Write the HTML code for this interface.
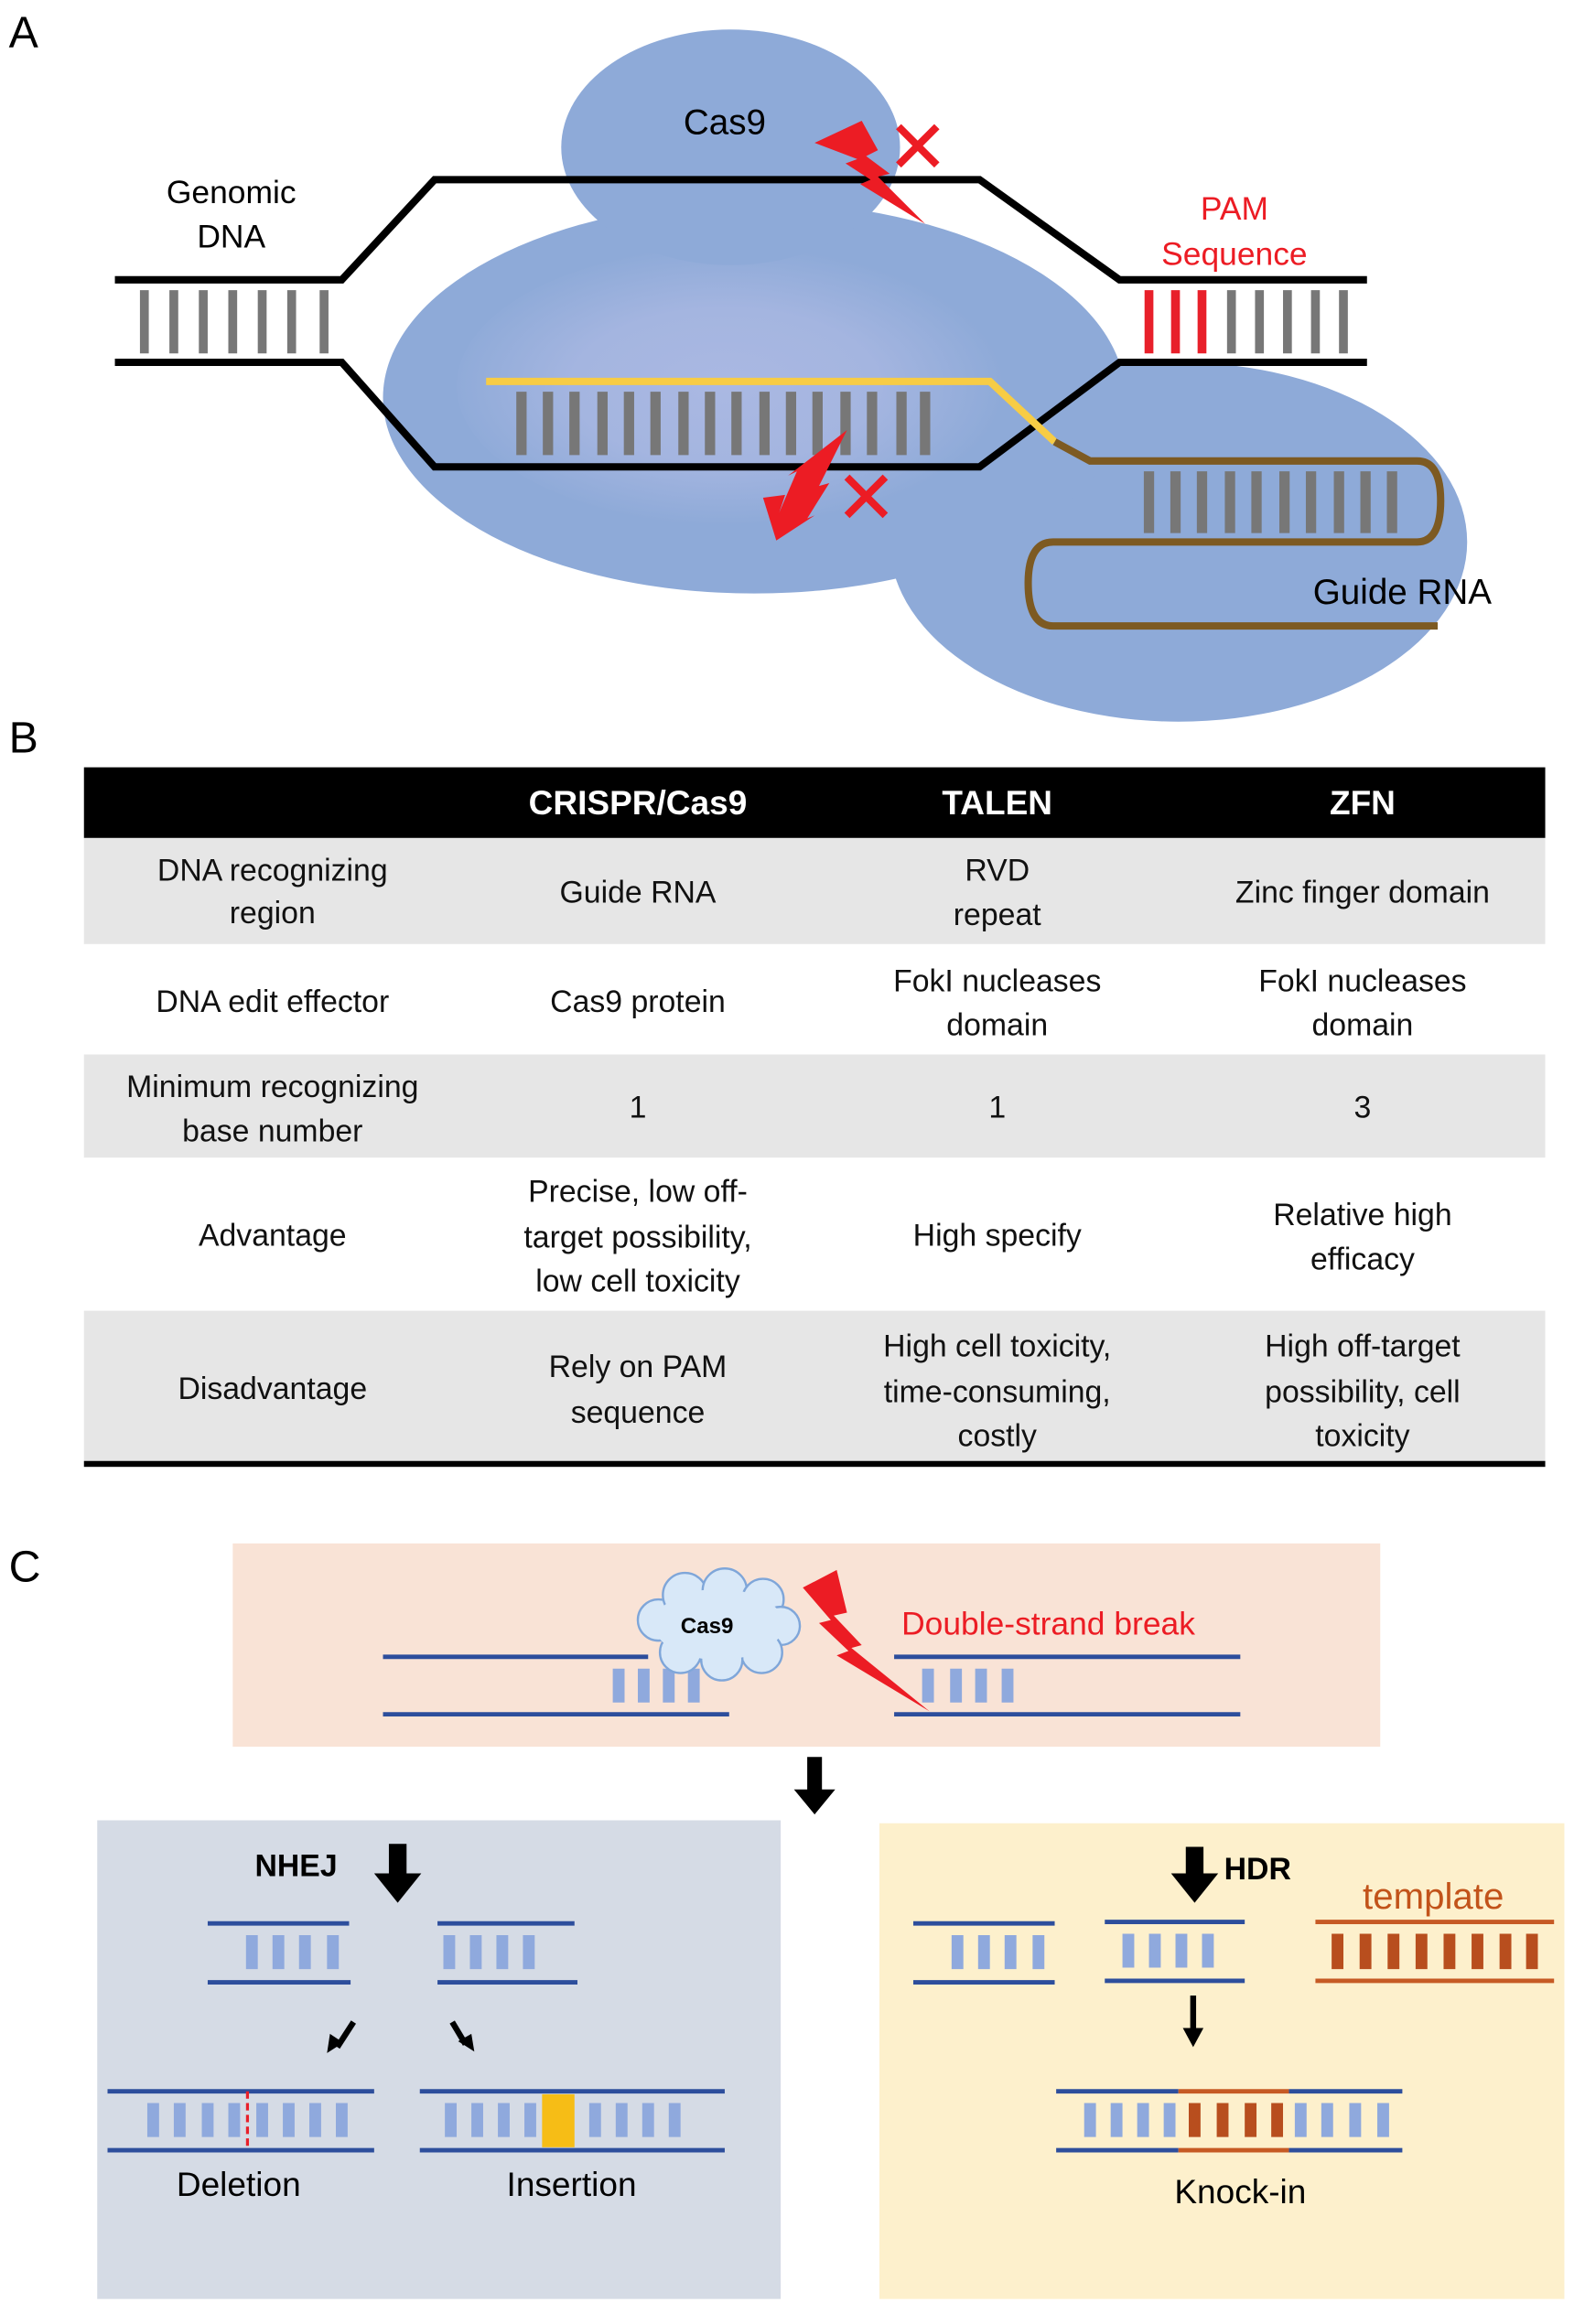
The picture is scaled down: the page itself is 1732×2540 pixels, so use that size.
<!DOCTYPE html>
<html><head><meta charset="utf-8"><style>
html,body{margin:0;padding:0;background:#fff}
svg{display:block}
text{font-family:"Liberation Sans",Arial,sans-serif}
</style></head><body>
<svg width="1732" height="2540" viewBox="0 0 1076 1578" preserveAspectRatio="none" xmlns="http://www.w3.org/2000/svg">
<defs>
<radialGradient id="g1" cx="0.48" cy="0.5" r="0.5">
<stop offset="0" stop-color="#aab8e2"/><stop offset="0.55" stop-color="#a4b5e0"/><stop offset="1" stop-color="#8eaad8"/>
</radialGradient>
</defs>
<!-- Panel A -->
<text x="6" y="32" font-size="30">A</text>
<ellipse cx="800" cy="368" rx="196" ry="122" fill="#8eaad8"/>
<ellipse cx="512" cy="270" rx="252" ry="133" fill="#8eaad8"/>
<ellipse cx="500" cy="262" rx="190" ry="95" fill="url(#g1)"/>
<ellipse cx="496" cy="100" rx="115" ry="80" fill="#8eaad8"/>
<!-- DNA -->
<g stroke="#000" stroke-width="5" fill="none" stroke-linejoin="miter">
<polyline points="78,190 232,190 295,122 665,122 760,190 928,190"/>
<polyline points="78,246 232,246 295,317 665,317 760,246 928,246"/>
</g>
<g stroke="#777" stroke-width="6">
<line x1="98" y1="197" x2="98" y2="240"/><line x1="118" y1="197" x2="118" y2="240"/><line x1="138" y1="197" x2="138" y2="240"/><line x1="158" y1="197" x2="158" y2="240"/><line x1="178" y1="197" x2="178" y2="240"/><line x1="198" y1="197" x2="198" y2="240"/><line x1="220" y1="197" x2="220" y2="240"/>
<line x1="836" y1="197" x2="836" y2="240"/><line x1="855" y1="197" x2="855" y2="240"/><line x1="874" y1="197" x2="874" y2="240"/><line x1="893" y1="197" x2="893" y2="240"/><line x1="912" y1="197" x2="912" y2="240"/>
</g>
<g stroke="#e8202a" stroke-width="6">
<line x1="780" y1="197" x2="780" y2="240"/><line x1="798" y1="197" x2="798" y2="240"/><line x1="816" y1="197" x2="816" y2="240"/>
</g>
<g stroke="#777" stroke-width="7">
<line x1="354" y1="266" x2="354" y2="309"/><line x1="372" y1="266" x2="372" y2="309"/><line x1="390" y1="266" x2="390" y2="309"/><line x1="409" y1="266" x2="409" y2="309"/><line x1="427" y1="266" x2="427" y2="309"/><line x1="445" y1="266" x2="445" y2="309"/><line x1="464" y1="266" x2="464" y2="309"/><line x1="482" y1="266" x2="482" y2="309"/><line x1="500" y1="266" x2="500" y2="309"/><line x1="519" y1="266" x2="519" y2="309"/><line x1="537" y1="266" x2="537" y2="309"/><line x1="555" y1="266" x2="555" y2="309"/><line x1="574" y1="266" x2="574" y2="309"/><line x1="592" y1="266" x2="592" y2="309"/><line x1="612" y1="266" x2="612" y2="309"/><line x1="628" y1="266" x2="628" y2="309"/>
<line x1="780" y1="320" x2="780" y2="362"/><line x1="798" y1="320" x2="798" y2="362"/><line x1="816" y1="320" x2="816" y2="362"/><line x1="835" y1="320" x2="835" y2="362"/><line x1="853" y1="320" x2="853" y2="362"/><line x1="872" y1="320" x2="872" y2="362"/><line x1="890" y1="320" x2="890" y2="362"/><line x1="909" y1="320" x2="909" y2="362"/><line x1="927" y1="320" x2="927" y2="362"/><line x1="945" y1="320" x2="945" y2="362"/>
</g>
<polyline points="330,259 672,259 716,300" fill="none" stroke="#f7cc45" stroke-width="5"/>
<path d="M716,300 L740,313 L962,313 Q978,313 978,340 Q978,368 962,368 L715,368 Q698,368 698,396 Q698,425 715,425 L976,425" fill="none" stroke="#7d5a22" stroke-width="5"/>
<!-- bolts -->
<polygon points="553,97 585,82 596,102 588,106 604,118 596,120 628,152 584,125 591,122 574,111 582,108" fill="#ec1c24"/>
<polygon points="575,292 556,330 563,328 548,352 553,350 527,367 518,338 533,336 529,348 541,320 535,323" fill="#ec1c24"/>
<g stroke="#ec1c24" stroke-width="5">
<line x1="610" y1="86" x2="636" y2="112"/><line x1="636" y1="86" x2="610" y2="112"/>
<line x1="575" y1="324" x2="601" y2="350"/><line x1="601" y1="324" x2="575" y2="350"/>
</g>
<text x="492" y="91" font-size="24" text-anchor="middle">Cas9</text>
<text x="157" y="138" font-size="22" text-anchor="middle">Genomic</text>
<text x="157" y="168" font-size="22" text-anchor="middle">DNA</text>
<text x="838" y="149" font-size="22" text-anchor="middle" fill="#ec1c24">PAM</text>
<text x="838" y="180" font-size="22" text-anchor="middle" fill="#ec1c24">Sequence</text>
<text x="952" y="410" font-size="24" text-anchor="middle">Guide RNA</text>

<!-- Panel B -->
<text x="6" y="511" font-size="30">B</text>
<rect x="57" y="521" width="992" height="48" fill="#000"/>
<rect x="57" y="569" width="992" height="72" fill="#e6e6e6"/>
<rect x="57" y="716" width="992" height="70" fill="#e6e6e6"/>
<rect x="57" y="890" width="992" height="103" fill="#e6e6e6"/>
<rect x="57" y="992" width="992" height="4" fill="#000"/>
<g font-size="23" font-weight="bold" fill="#fff" text-anchor="middle">
<text x="433" y="553">CRISPR/Cas9</text><text x="677" y="553">TALEN</text><text x="925" y="553">ZFN</text>
</g>
<g font-size="21" text-anchor="middle" fill="#111">
<text x="185" y="598">DNA recognizing</text><text x="185" y="627">region</text>
<text x="433" y="613">Guide RNA</text>
<text x="677" y="598">RVD</text><text x="677" y="628">repeat</text>
<text x="925" y="613">Zinc finger domain</text>
<text x="185" y="687">DNA edit effector</text>
<text x="433" y="687">Cas9 protein</text>
<text x="677" y="673">FokI nucleases</text><text x="677" y="703">domain</text>
<text x="925" y="673">FokI nucleases</text><text x="925" y="703">domain</text>
<text x="185" y="745">Minimum recognizing</text><text x="185" y="775">base number</text>
<text x="433" y="759">1</text><text x="677" y="759">1</text><text x="925" y="759">3</text>
<text x="185" y="846">Advantage</text>
<text x="433" y="816">Precise, low off-</text><text x="433" y="847">target possibility,</text><text x="433" y="877">low cell toxicity</text>
<text x="677" y="846">High specify</text>
<text x="925" y="832">Relative high</text><text x="925" y="862">efficacy</text>
<text x="185" y="950">Disadvantage</text>
<text x="433" y="935">Rely on PAM</text><text x="433" y="966">sequence</text>
<text x="677" y="921">High cell toxicity,</text><text x="677" y="952">time-consuming,</text><text x="677" y="982">costly</text>
<text x="925" y="921">High off-target</text><text x="925" y="952">possibility, cell</text><text x="925" y="982">toxicity</text>
</g>

<!-- Panel C -->
<text x="6" y="1074" font-size="30">C</text>
<rect x="158" y="1048" width="779" height="138" fill="#f9e3d6"/>
<g stroke="#2d4e9c" stroke-width="3">
<line x1="260" y1="1125" x2="440" y2="1125"/><line x1="260" y1="1164" x2="495" y2="1164"/>
<line x1="607" y1="1125" x2="842" y2="1125"/><line x1="607" y1="1164" x2="842" y2="1164"/>
</g>
<g stroke="#8fa9dd" stroke-width="8">
<line x1="420" y1="1133" x2="420" y2="1156"/><line x1="437" y1="1133" x2="437" y2="1156"/><line x1="454" y1="1133" x2="454" y2="1156"/><line x1="471" y1="1133" x2="471" y2="1156"/>
<line x1="630" y1="1133" x2="630" y2="1156"/><line x1="649" y1="1133" x2="649" y2="1156"/><line x1="666" y1="1133" x2="666" y2="1156"/><line x1="684" y1="1133" x2="684" y2="1156"/>
</g>
<g fill="#d8e8f8" stroke="#7fa6d9" stroke-width="1.5">
<circle cx="447" cy="1100" r="14"/><circle cx="465" cy="1083" r="15"/><circle cx="492" cy="1080" r="15"/><circle cx="518" cy="1086" r="14"/><circle cx="530" cy="1104" r="13"/><circle cx="517" cy="1122" r="14"/><circle cx="490" cy="1127" r="14"/><circle cx="462" cy="1122" r="14"/>
</g>
<ellipse cx="488" cy="1103" rx="44" ry="24" fill="#d8e8f8"/>
<text x="480" y="1109" font-size="15" font-weight="bold" text-anchor="middle">Cas9</text>
<polygon points="545,1078 568,1066 575,1095 566,1097 585,1117 578,1119 631,1162 568,1124 576,1121 556,1102 564,1100" fill="#ec1c24"/>
<text x="612" y="1110" font-size="22" fill="#ec1c24">Double-strand break</text>
<polygon points="548,1193 558,1193 558,1215 567,1215 553,1232 539,1215 548,1215" fill="#000"/>

<rect x="66" y="1236" width="464" height="325" fill="#d5dbe5"/>
<rect x="597" y="1238" width="465" height="323" fill="#fdf0cc"/>
<text x="173" y="1274" font-size="21" font-weight="bold">NHEJ</text>
<polygon points="264,1252 276,1252 276,1272 286,1272 270,1292 254,1272 264,1272" fill="#000"/>
<g stroke="#2d4e9c" stroke-width="3">
<line x1="141" y1="1306" x2="237" y2="1306"/><line x1="141" y1="1346" x2="238" y2="1346"/>
<line x1="297" y1="1306" x2="390" y2="1306"/><line x1="297" y1="1346" x2="392" y2="1346"/>
<line x1="73" y1="1420" x2="254" y2="1420"/><line x1="73" y1="1460" x2="254" y2="1460"/>
<line x1="285" y1="1420" x2="492" y2="1420"/><line x1="285" y1="1460" x2="492" y2="1460"/>
<line x1="620" y1="1306" x2="716" y2="1306"/><line x1="620" y1="1346" x2="716" y2="1346"/>
<line x1="750" y1="1305" x2="845" y2="1305"/><line x1="750" y1="1345" x2="845" y2="1345"/>
<line x1="717" y1="1420" x2="800" y2="1420"/><line x1="875" y1="1420" x2="952" y2="1420"/>
<line x1="717" y1="1460" x2="800" y2="1460"/><line x1="875" y1="1460" x2="952" y2="1460"/>
</g>
<g stroke="#8fa9dd" stroke-width="8">
<line x1="171" y1="1314" x2="171" y2="1337"/><line x1="189" y1="1314" x2="189" y2="1337"/><line x1="207" y1="1314" x2="207" y2="1337"/><line x1="226" y1="1314" x2="226" y2="1337"/>
<line x1="305" y1="1314" x2="305" y2="1337"/><line x1="323" y1="1314" x2="323" y2="1337"/><line x1="341" y1="1314" x2="341" y2="1337"/><line x1="359" y1="1314" x2="359" y2="1337"/>
<line x1="104" y1="1428" x2="104" y2="1451"/><line x1="122" y1="1428" x2="122" y2="1451"/><line x1="141" y1="1428" x2="141" y2="1451"/><line x1="159" y1="1428" x2="159" y2="1451"/><line x1="178" y1="1428" x2="178" y2="1451"/><line x1="196" y1="1428" x2="196" y2="1451"/><line x1="214" y1="1428" x2="214" y2="1451"/><line x1="232" y1="1428" x2="232" y2="1451"/>
<line x1="306" y1="1428" x2="306" y2="1451"/><line x1="324" y1="1428" x2="324" y2="1451"/><line x1="342" y1="1428" x2="342" y2="1451"/><line x1="360" y1="1428" x2="360" y2="1451"/>
<line x1="404" y1="1428" x2="404" y2="1451"/><line x1="422" y1="1428" x2="422" y2="1451"/><line x1="440" y1="1428" x2="440" y2="1451"/><line x1="458" y1="1428" x2="458" y2="1451"/>
<line x1="650" y1="1314" x2="650" y2="1337"/><line x1="668" y1="1314" x2="668" y2="1337"/><line x1="686" y1="1314" x2="686" y2="1337"/><line x1="705" y1="1314" x2="705" y2="1337"/>
<line x1="766" y1="1313" x2="766" y2="1336"/><line x1="784" y1="1313" x2="784" y2="1336"/><line x1="802" y1="1313" x2="802" y2="1336"/><line x1="820" y1="1313" x2="820" y2="1336"/>
<line x1="740" y1="1428" x2="740" y2="1451"/><line x1="758" y1="1428" x2="758" y2="1451"/><line x1="776" y1="1428" x2="776" y2="1451"/><line x1="794" y1="1428" x2="794" y2="1451"/>
<line x1="883" y1="1428" x2="883" y2="1451"/><line x1="901" y1="1428" x2="901" y2="1451"/><line x1="920" y1="1428" x2="920" y2="1451"/><line x1="939" y1="1428" x2="939" y2="1451"/>
</g>
<line x1="168" y1="1420" x2="168" y2="1460" stroke="#e8202a" stroke-width="2" stroke-dasharray="5,3"/>
<rect x="368" y="1422" width="22" height="36" fill="#f6bd16"/>
<g stroke="#000" stroke-width="4">
<line x1="240" y1="1373" x2="229" y2="1390"/><line x1="307" y1="1373" x2="316" y2="1388"/>
</g>
<polygon points="222,1394 224,1381 233,1387" fill="#000"/>
<polygon points="322,1393 311,1386 320,1381" fill="#000"/>
<text x="162" y="1491" font-size="23" text-anchor="middle">Deletion</text>
<text x="388" y="1491" font-size="23" text-anchor="middle">Insertion</text>

<polygon points="805,1254 817,1254 817,1272 827,1272 811,1292 795,1272 805,1272" fill="#000"/>
<text x="831" y="1276" font-size="21" font-weight="bold">HDR</text>
<text x="973" y="1296" font-size="25" fill="#c2531a" text-anchor="middle">template</text>
<g stroke="#c65a24" stroke-width="3">
<line x1="893" y1="1305" x2="1055" y2="1305"/><line x1="893" y1="1345" x2="1055" y2="1345"/>
<line x1="800" y1="1420" x2="875" y2="1420"/><line x1="800" y1="1460" x2="875" y2="1460"/>
</g>
<g stroke="#b84e1e" stroke-width="8">
<line x1="908" y1="1313" x2="908" y2="1337"/><line x1="927" y1="1313" x2="927" y2="1337"/><line x1="946" y1="1313" x2="946" y2="1337"/><line x1="965" y1="1313" x2="965" y2="1337"/><line x1="984" y1="1313" x2="984" y2="1337"/><line x1="1003" y1="1313" x2="1003" y2="1337"/><line x1="1022" y1="1313" x2="1022" y2="1337"/><line x1="1040" y1="1313" x2="1040" y2="1337"/>
<line x1="811" y1="1428" x2="811" y2="1451"/><line x1="830" y1="1428" x2="830" y2="1451"/><line x1="849" y1="1428" x2="849" y2="1451"/><line x1="867" y1="1428" x2="867" y2="1451"/>
</g>
<line x1="810" y1="1355" x2="810" y2="1378" stroke="#000" stroke-width="4"/>
<polygon points="803,1377 817,1377 810,1390" fill="#000"/>
<text x="842" y="1496" font-size="23" text-anchor="middle">Knock-in</text>
</svg>
</body></html>
